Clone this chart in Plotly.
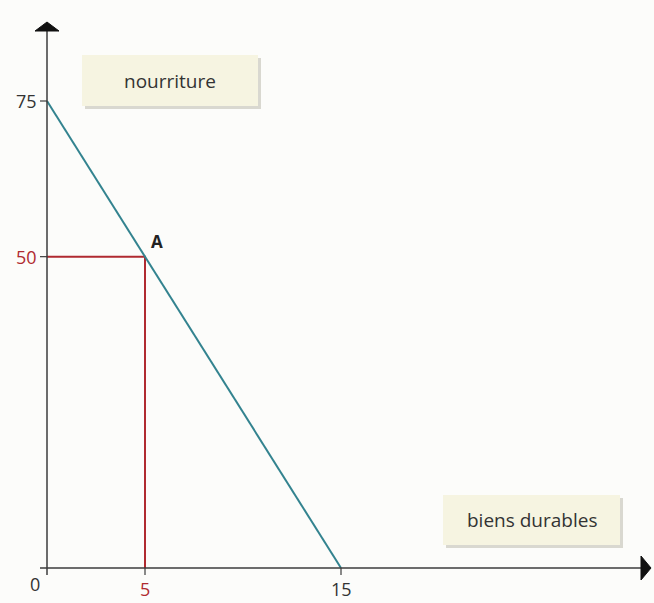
import plotly.graph_objects as go

# droite de budget : nourriture (y) contre biens durables (x)
budget_x = [0, 15]
budget_y = [75, 0]
point_a_x = [5]
point_a_y = [50]
point_label = "A"
x_ticks = [5, 15]
y_ticks = [50, 75]
highlight_ticks = {5, 50}
x_title = "biens durables"
y_title = "nourriture"

W, H = 654, 603
# pixel placement of the axes
X0_PX, X15_PX = 47, 341
Y0_PX, Y75_PX = 568, 101
sx = (X15_PX - X0_PX) / 15.0
sy = (Y0_PX - Y75_PX) / 75.0
x_range = [-X0_PX / sx, (W - X0_PX) / sx]
y_range = [-(H - Y0_PX) / sy, Y0_PX / sy]

AXIS = "#3c3c3c"
TEAL = "#33838f"
RED = "#b02a30"
FONT = "Open Sans"


def px(x):
    return x / W


def py(y):
    return 1 - y / H


fig = go.Figure()

# projections du point A
fig.add_trace(go.Scatter(
    x=[0, point_a_x[0], point_a_x[0]],
    y=[point_a_y[0], point_a_y[0], 0],
    mode="lines",
    line=dict(color=RED, width=2),
    hoverinfo="skip",
    showlegend=False,
))

fig.add_trace(go.Scatter(
    x=budget_x,
    y=budget_y,
    mode="lines",
    line=dict(color=TEAL, width=2),
    hoverinfo="skip",
    showlegend=False,
))

shapes = []
annotations = []

# axes
shapes.append(dict(type="line", xref="paper", yref="paper",
                   x0=px(40), x1=px(645), y0=py(Y0_PX), y1=py(Y0_PX),
                   line=dict(color=AXIS, width=1.5)))
shapes.append(dict(type="line", xref="paper", yref="paper",
                   x0=px(X0_PX), x1=px(X0_PX), y0=py(575), y1=py(30),
                   line=dict(color=AXIS, width=1.5)))
# flèches
shapes.append(dict(type="path", xref="paper", yref="paper",
                   path=f"M {px(X0_PX - 12)},{py(31)} L {px(X0_PX + 12)},{py(31)} "
                        f"L {px(X0_PX)},{py(22)} Z",
                   fillcolor="#111", line=dict(color="#111", width=1)))
shapes.append(dict(type="path", xref="paper", yref="paper",
                   path=f"M {px(641)},{py(Y0_PX - 12)} L {px(641)},{py(Y0_PX + 12)} "
                        f"L {px(651)},{py(Y0_PX)} Z",
                   fillcolor="#111", line=dict(color="#111", width=1)))

# graduations
for t in y_ticks:
    yp = Y0_PX - t * sy
    shapes.append(dict(type="line", xref="paper", yref="paper",
                       x0=px(X0_PX - 7), x1=px(X0_PX), y0=py(yp), y1=py(yp),
                       line=dict(color=AXIS, width=1.2)))
    annotations.append(dict(x=0, y=t, xref="x", yref="y", text=str(t),
                            showarrow=False, xanchor="right", xshift=-8,
                            font=dict(family=FONT, size=18,
                                      color=RED if t in highlight_ticks else "#333")))
for t in x_ticks:
    xp = X0_PX + t * sx
    shapes.append(dict(type="line", xref="paper", yref="paper",
                       x0=px(xp), x1=px(xp), y0=py(Y0_PX), y1=py(Y0_PX + 7),
                       line=dict(color=AXIS, width=1.2)))
    annotations.append(dict(x=t, y=0, xref="x", yref="y", text=str(t),
                            showarrow=False, yanchor="top", yshift=-7,
                            font=dict(family=FONT, size=18,
                                      color=RED if t in highlight_ticks else "#333")))
annotations.append(dict(x=0, y=0, xref="x", yref="y", text="0",
                        showarrow=False, xanchor="right", yanchor="top",
                        xshift=-5, yshift=-2,
                        font=dict(family=FONT, size=18, color="#333")))

annotations.append(dict(x=point_a_x[0], y=point_a_y[0], xref="x", yref="y",
                        text=f"<b>{point_label}</b>", showarrow=False,
                        xanchor="left", yanchor="bottom", xshift=4, yshift=2,
                        font=dict(family=FONT, size=17, color="#222")))

# étiquettes encadrées
for (x0, y0, x1, y1), label in [((82, 55, 258, 106), y_title),
                                ((443, 495, 620, 545), x_title)]:
    shapes.append(dict(type="rect", xref="paper", yref="paper",
                       x0=px(x0 + 3), x1=px(x1 + 3), y0=py(y0 + 3), y1=py(y1 + 3),
                       fillcolor="#d9d8d0", line=dict(width=0), layer="below"))
    shapes.append(dict(type="rect", xref="paper", yref="paper",
                       x0=px(x0), x1=px(x1), y0=py(y0), y1=py(y1),
                       fillcolor="#f6f4e1", line=dict(width=0), layer="below"))
    annotations.append(dict(x=px((x0 + x1) / 2), y=py((y0 + y1) / 2),
                            xref="paper", yref="paper", text=label,
                            xanchor="center", yanchor="middle",
                            showarrow=False,
                            font=dict(family=FONT, size=19, color="#333")))

fig.update_layout(
    width=W,
    height=H,
    margin=dict(l=0, r=0, t=0, b=0),
    paper_bgcolor="#fcfcfa",
    plot_bgcolor="#fcfcfa",
    xaxis=dict(range=x_range, visible=False, fixedrange=True),
    yaxis=dict(range=y_range, visible=False, fixedrange=True),
    shapes=shapes,
    annotations=annotations,
    showlegend=False,
)

fig.write_html("out.html", config={"displayModeBar": False},
               post_script="document.body.style.margin='0';")
